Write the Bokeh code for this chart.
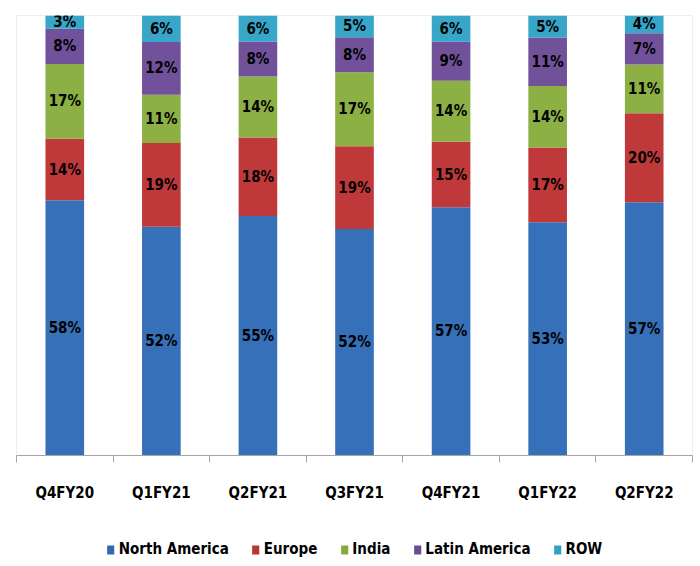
from bokeh.plotting import figure
from bokeh.layouts import column
from bokeh.models import (ColumnDataSource, Range1d, LinearAxis, FixedTicker, Legend, LegendItem)
from bokeh.core.properties import value
from bokeh.embed import file_html
from bokeh.resources import INLINE

categories = ["Q4FY20", "Q1FY21", "Q2FY21", "Q3FY21", "Q4FY21", "Q1FY22", "Q2FY22"]
series_names = ["North America", "Europe", "India", "Latin America", "ROW"]
north_america = [58, 52, 55, 52, 57, 53, 57]
europe = [14, 19, 18, 19, 15, 17, 20]
india = [17, 11, 14, 17, 14, 14, 11]
latin_america = [8, 12, 8, 8, 9, 11, 7]
row = [3, 6, 6, 5, 6, 5, 4]
colors = ["#3670b8", "#c0393a", "#8cb043", "#71519a", "#37a6c9"]
legend_colors = ["#3169b0", "#b83636", "#85aa3f", "#6a4c95", "#34a0c2"]

FONT_NAME = "DejaVu Sans Condensed"
FONT = value(FONT_NAME)
series = [north_america, europe, india, latin_america, row]
keys = ["na", "eu", "in", "la", "rw"]
n = len(categories)
totals = [sum(s[i] for s in series) for i in range(n)]
xpos = [i + 0.5 for i in range(n)]

data = {"x": xpos}
for k, s in zip(keys, series):
    data[k] = [v / t * 100 for v, t in zip(s, totals)]
source = ColumnDataSource(data)

p = figure(width=700, height=510, x_range=Range1d(0, n),
           y_range=Range1d(0, 100), output_backend="svg", toolbar_location=None,
           x_axis_location=None, y_axis_location=None,
           min_border_left=16, min_border_right=8, min_border_top=15, min_border_bottom=55)
p.grid.visible = False
p.outline_line_color = "#eeeeee"
p.background_fill_color = "white"

renderers = p.vbar_stack(keys, x="x", width=0.4, color=colors, line_color=None, source=source)

# labels
lx, ly, lt = [], [], []
for i in range(n):
    bottom = 0.0
    for k, s in zip(keys, series):
        h = data[k][i]
        lx.append(xpos[i])
        ly.append(bottom + h / 2)
        lt.append(f"{s[i]}%")
        bottom += h
p.text(x="x", y="y", text="t", source=ColumnDataSource(dict(x=lx, y=ly, t=lt)),
       text_align="center", text_baseline="middle", text_font=FONT,
       text_font_style="bold", text_font_size="15px", text_color="black")

xaxis = LinearAxis(ticker=FixedTicker(ticks=xpos, minor_ticks=list(range(n + 1))),
                   major_label_overrides={x: c for x, c in zip(xpos, categories)},
                   major_tick_line_color=None, major_tick_out=7, major_tick_in=0,
                   minor_tick_out=7, minor_tick_in=0, minor_tick_line_color="#a6a6a6",
                   axis_line_color="#a6a6a6", major_label_standoff=21,
                   major_label_text_font=FONT_NAME, major_label_text_font_style="bold",
                   major_label_text_font_size="15px", major_label_text_color="black")
p.add_layout(xaxis, "below")

# legend strip: same stacked series, scrolled out of view so only the legend shows
p2 = figure(width=700, height=56, x_range=Range1d(0, n), y_range=Range1d(200, 300),
            output_backend="svg", toolbar_location=None,
            x_axis_location=None, y_axis_location=None,
            min_border_left=12, min_border_right=0, min_border_top=22, min_border_bottom=0)
p2.grid.visible = False
p2.outline_line_color = None
leg_renderers = p2.vbar_stack(keys, x="x", width=0.4, color=legend_colors, line_color=None,
                              source=source)
legend = Legend(items=[LegendItem(label=nm, renderers=[r]) for nm, r in zip(series_names, leg_renderers)],
                orientation="horizontal", location="center",
                label_text_font=FONT_NAME, label_text_font_style="bold", label_text_font_size="15px",
                label_text_color="black",
                glyph_width=9, glyph_height=11, label_standoff=4, spacing=22,
                border_line_color=None, background_fill_alpha=0, margin=0, padding=0)
p2.add_layout(legend)

open("out.html", "w").write(file_html(column(p, p2, spacing=0), INLINE))
